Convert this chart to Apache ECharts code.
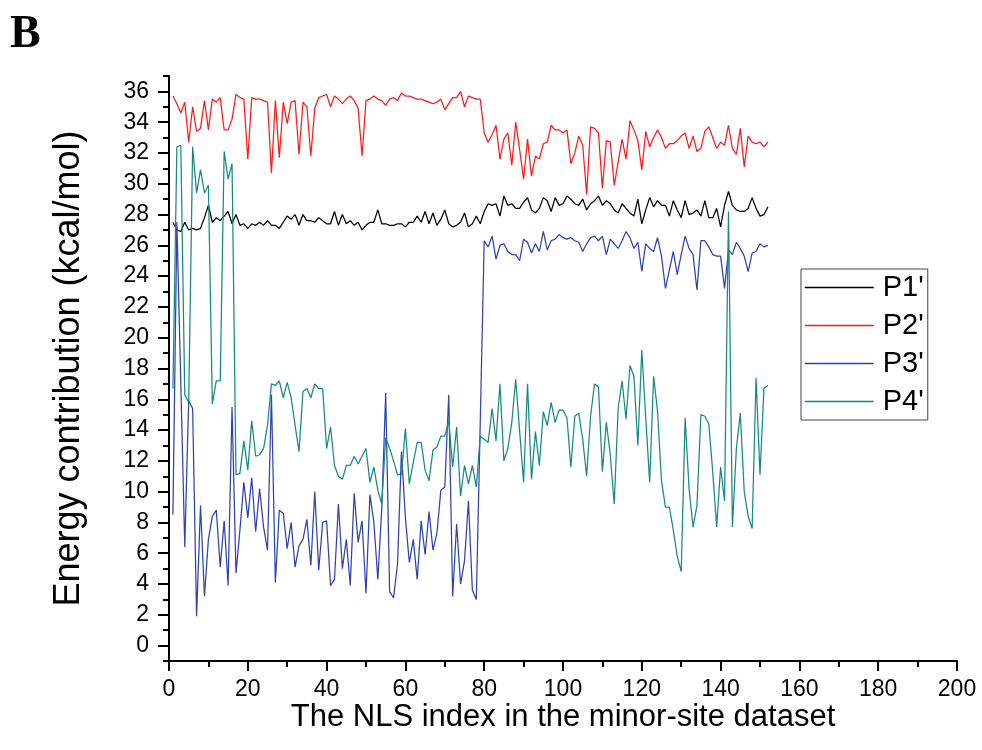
<!DOCTYPE html>
<html>
<head>
<meta charset="utf-8">
<script src="https://cdn.jsdelivr.net/npm/echarts@6/dist/echarts.min.js"></script>
<style>
  html, body { margin: 0; padding: 0; background: #fff; }
  #chart { width: 982px; height: 750px; }
</style>
</head>
<body>
<div id="chart"></div>
<script>
// NLS index runs 1..152
const firstIndex = 1;

const seriesNames = ["P1'", "P2'", "P3'", "P4'"];
const seriesColors = ['#000000', '#ff1a1a', '#2f42b0', '#178a80'];

const xTicks = [0, 20, 40, 60, 80, 100, 120, 140, 160, 180, 200];
const yTicks = [0, 2, 4, 6, 8, 10, 12, 14, 16, 18, 20, 22, 24, 26, 28, 30, 32, 34, 36];
const yMinorTicks = [-1, 1, 3, 5, 7, 9, 11, 13, 15, 17, 19, 21, 23, 25, 27, 29, 31, 33, 35, 37];

// P1'
const p1 = [
  27.5, 27.0, 26.9, 27.5, 27.0, 27.1, 27.0, 27.1, 27.8, 28.6,
  27.5, 27.8, 27.6, 27.9, 28.2, 27.4, 28.0, 27.3, 27.4, 27.1,
  27.4, 27.3, 27.5, 27.3, 27.6, 27.3, 27.3, 27.1, 27.5, 27.9,
  27.7, 28.0, 27.3, 28.0, 27.6, 27.6, 27.5, 27.8, 27.6, 27.4,
  27.4, 28.2, 27.3, 28.0, 27.4, 27.6, 27.3, 27.5, 27.0, 27.3,
  27.5, 27.5, 28.3, 27.4, 27.4, 27.3, 27.3, 27.4, 27.4, 27.2,
  27.5, 27.5, 27.9, 27.5, 28.2, 27.4, 28.1, 27.3, 27.7, 28.3,
  27.4, 27.2, 27.3, 27.5, 28.1, 27.2, 27.4, 27.9, 27.4, 28.2,
  28.7, 28.6, 28.7, 27.9, 29.2, 28.6, 28.7, 28.4, 28.4, 28.8,
  29.1, 28.3, 28.1, 28.4, 29.1, 28.9, 28.2, 29.1, 28.6, 28.7,
  29.2, 29.0, 28.7, 28.6, 29.0, 28.3, 28.7, 28.9, 29.2, 28.6,
  28.9, 28.7, 28.3, 28.1, 28.7, 28.4, 28.1, 27.9, 29.0, 27.4,
  28.3, 29.1, 28.5, 28.9, 28.6, 28.6, 27.9, 28.9, 28.3, 27.8,
  28.9, 28.0, 28.1, 28.3, 27.9, 28.9, 27.8, 27.8, 28.4, 27.2,
  28.6, 29.5, 28.6, 28.3, 28.2, 28.2, 28.4, 29.1, 28.4, 27.9,
  28.0, 28.5
];

// P2'
const p2 = [
  35.7, 35.2, 34.6, 35.3, 32.7, 35.0, 33.4, 33.6, 35.4, 33.5,
  35.5, 35.3, 35.6, 33.5, 33.5, 34.2, 35.8, 35.6, 35.5, 31.6,
  35.6, 35.5, 35.5, 35.4, 35.3, 30.7, 35.4, 31.7, 35.3, 33.9,
  35.3, 35.4, 31.9, 35.3, 35.0, 31.8, 34.9, 35.6, 35.7, 35.8,
  35.0, 35.7, 35.5, 35.2, 35.5, 35.7, 35.4, 34.9, 31.8, 35.4,
  35.5, 35.7, 35.5, 35.4, 35.1, 35.5, 35.6, 35.4, 35.9, 35.7,
  35.7, 35.6, 35.5, 35.5, 35.4, 35.3, 35.2, 35.3, 35.5, 34.8,
  35.2, 35.6, 35.6, 36.0, 35.0, 35.7, 35.6, 35.5, 35.5, 33.3,
  32.7, 33.2, 33.8, 31.6, 32.9, 33.3, 31.2, 34.0, 32.2, 30.3,
  32.9, 30.5, 31.8, 31.6, 32.6, 32.7, 33.8, 33.5, 33.5, 33.3,
  33.5, 31.3, 32.0, 33.1, 32.5, 29.3, 33.7, 33.6, 33.3, 29.7,
  32.8, 32.7, 29.9, 31.4, 32.9, 31.6, 34.1, 33.5, 32.8, 30.9,
  33.4, 32.4, 33.0, 33.5, 33.0, 32.3, 32.6, 32.6, 32.8, 33.1,
  33.3, 32.3, 33.1, 32.1, 32.3, 33.4, 33.7, 33.0, 32.3, 32.7,
  32.5, 33.8, 32.3, 31.9, 33.6, 31.1, 33.1, 32.7, 32.6, 32.7,
  32.4, 32.7
];

// P3'
const p3 = [
  8.5, 27.5, 17.0, 6.4, 15.9, 15.4, 1.9, 9.1, 3.2, 6.9,
  8.4, 8.8, 5.1, 8.1, 3.9, 15.5, 4.7, 7.5, 10.6, 8.3,
  10.9, 7.4, 10.2, 7.7, 6.2, 16.3, 4.1, 8.8, 8.6, 6.3,
  8.0, 5.1, 6.5, 6.9, 8.2, 5.2, 10.0, 4.9, 8.0, 8.1,
  3.9, 4.3, 9.2, 5.0, 6.9, 3.9, 9.9, 6.7, 8.1, 3.4,
  9.8, 8.0, 4.3, 8.9, 16.4, 3.5, 3.1, 5.3, 12.6, 8.3,
  5.4, 6.9, 4.3, 8.1, 5.9, 8.7, 6.2, 7.3, 10.1, 10.3,
  16.3, 3.2, 7.9, 4.0, 5.5, 9.4, 3.6, 3.0, 14.5, 26.3,
  25.9, 26.6, 25.1, 26.0, 26.1, 25.6, 25.4, 25.4, 25.0, 26.4,
  26.2, 25.5, 26.1, 25.6, 26.9, 25.7, 26.3, 26.4, 26.7, 26.5,
  26.4, 26.5, 26.3, 26.2, 25.6, 26.1, 26.5, 26.6, 26.3, 26.6,
  25.4, 26.4, 26.1, 25.8, 26.3, 26.9, 26.5, 25.8, 26.2, 24.3,
  26.1, 25.8, 25.6, 26.5, 25.3, 23.2, 24.4, 25.6, 24.1, 25.4,
  26.6, 25.8, 25.4, 23.1, 26.3, 26.3, 25.9, 25.4, 25.3, 25.3,
  23.2, 25.7, 25.4, 26.2, 25.8, 25.3, 24.3, 25.5, 25.6, 26.1,
  25.9, 26.0
];

// P4'
const p4 = [
  16.7, 32.4, 32.5, 16.3, 15.8, 32.4, 29.4, 30.9, 29.4, 29.9,
  15.7, 17.2, 17.2, 32.1, 30.3, 31.3, 11.1, 11.2, 13.3, 11.4,
  14.6, 12.3, 12.4, 12.8, 14.3, 17.0, 16.9, 17.2, 16.1, 17.1,
  16.1, 14.3, 12.6, 16.5, 16.7, 16.1, 17.0, 16.7, 16.7, 12.8,
  14.2, 11.7, 11.0, 10.8, 11.7, 11.7, 12.3, 11.8, 12.3, 12.8,
  10.6, 11.6, 10.1, 9.2, 13.5, 12.8, 12.0, 11.1, 11.1, 14.1,
  10.5, 11.9, 13.2, 13.2, 11.4, 10.7, 12.7, 12.9, 13.6, 13.6,
  14.6, 11.6, 14.2, 9.7, 11.7, 10.5, 11.7, 10.3, 13.6, 13.4,
  13.2, 15.4, 13.3, 17.0, 12.0, 12.8, 14.5, 17.3, 13.9, 10.6,
  17.0, 10.8, 13.9, 11.7, 15.2, 14.3, 15.8, 14.5, 15.3, 15.3,
  14.8, 11.6, 14.9, 15.1, 13.4, 11.0, 14.9, 17.0, 16.8, 11.3,
  14.5, 12.4, 9.2, 15.4, 17.2, 14.7, 18.2, 17.5, 13.0, 19.2,
  14.8, 10.6, 17.5, 15.2, 10.7, 9.0, 9.0, 7.5, 5.8, 4.8,
  14.8, 10.2, 7.7, 9.1, 15.0, 14.9, 14.4, 11.3, 7.7, 11.6,
  9.4, 28.2, 7.7, 12.8, 15.1, 10.0, 8.4, 7.6, 17.4, 11.1,
  16.7, 16.9
];

function toPoints(values) {
  return values.map((v, k) => [firstIndex + k, v]);
}

const chart = echarts.init(document.getElementById('chart'), null, { renderer: 'canvas' });

const font = '"Liberation Sans", Arial, sans-serif';

const seriesData = [p1, p2, p3, p4];

chart.setOption({
  animation: false,
  backgroundColor: '#fff',
  textStyle: { fontFamily: font, color: '#000' },
  grid: { left: 169, right: 25, top: 76, bottom: 89, containLabel: false },
  graphic: [{
    type: 'text',
    left: 10,
    top: 12,
    style: { text: 'B', font: 'bold 46px "Liberation Serif", "Times New Roman", serif', fill: '#000' }
  }],
  legend: {
    data: seriesNames,
    orient: 'vertical',
    left: 801,
    top: 269,
    padding: [4, 4, 4, 3],
    borderColor: '#444',
    borderWidth: 1,
    itemWidth: 69,
    itemHeight: 26,
    itemGap: 9,
    itemStyle: { opacity: 0 },
    lineStyle: { width: 1.5 },
    textStyle: { fontFamily: font, fontSize: 29, color: '#000', padding: [0, 0, 0, 4] }
  },
  xAxis: {
    type: 'value',
    min: 0,
    max: 200,
    interval: 20,
    name: 'The NLS index in the minor-site dataset',
    nameLocation: 'middle',
    nameGap: 41,
    nameMoveOverlap: false,
    nameTextStyle: { fontFamily: font, fontSize: 31, color: '#000' },
    axisLine: { show: true, onZero: false, lineStyle: { color: '#000', width: 2 } },
    axisTick: { show: true, inside: false, length: 10, lineStyle: { color: '#000', width: 2 } },
    minorTick: { show: true, splitNumber: 2, length: 6, lineStyle: { color: '#000', width: 2 } },
    axisLabel: { fontFamily: font, fontSize: 23, color: '#000', margin: 17,
      customValues: xTicks },
    splitLine: { show: false }
  },
  yAxis: [{
    type: 'value',
    min: -1,
    max: 37,
    name: 'Energy contribution (kcal/mol)',
    nameLocation: 'middle',
    nameGap: 82,
    nameMoveOverlap: false,
    nameTextStyle: { fontFamily: font, fontSize: 36, color: '#000' },
    axisLine: { show: true, onZero: false, lineStyle: { color: '#000', width: 2 } },
    axisTick: { show: true, inside: false, length: 11, customValues: yTicks,
      lineStyle: { color: '#000', width: 2 } },
    axisLabel: { fontFamily: font, fontSize: 23, color: '#000', margin: 20, customValues: yTicks },
    splitLine: { show: false }
  }, {
    type: 'value',
    min: -1,
    max: 37,
    position: 'left',
    offset: 0,
    axisLine: { show: false },
    axisTick: { show: true, inside: false, length: 6, customValues: yMinorTicks,
      lineStyle: { color: '#000', width: 2 } },
    axisLabel: { show: false },
    splitLine: { show: false }
  }],
  series: seriesData.map((vals, k) => ({
    name: seriesNames[k],
    type: 'line',
    data: toPoints(vals),
    showSymbol: false,
    symbol: 'none',
    yAxisIndex: 0,
    color: seriesColors[k],
    lineStyle: { color: seriesColors[k], width: 1.25 }
  }))
});
</script>
</body>
</html>
